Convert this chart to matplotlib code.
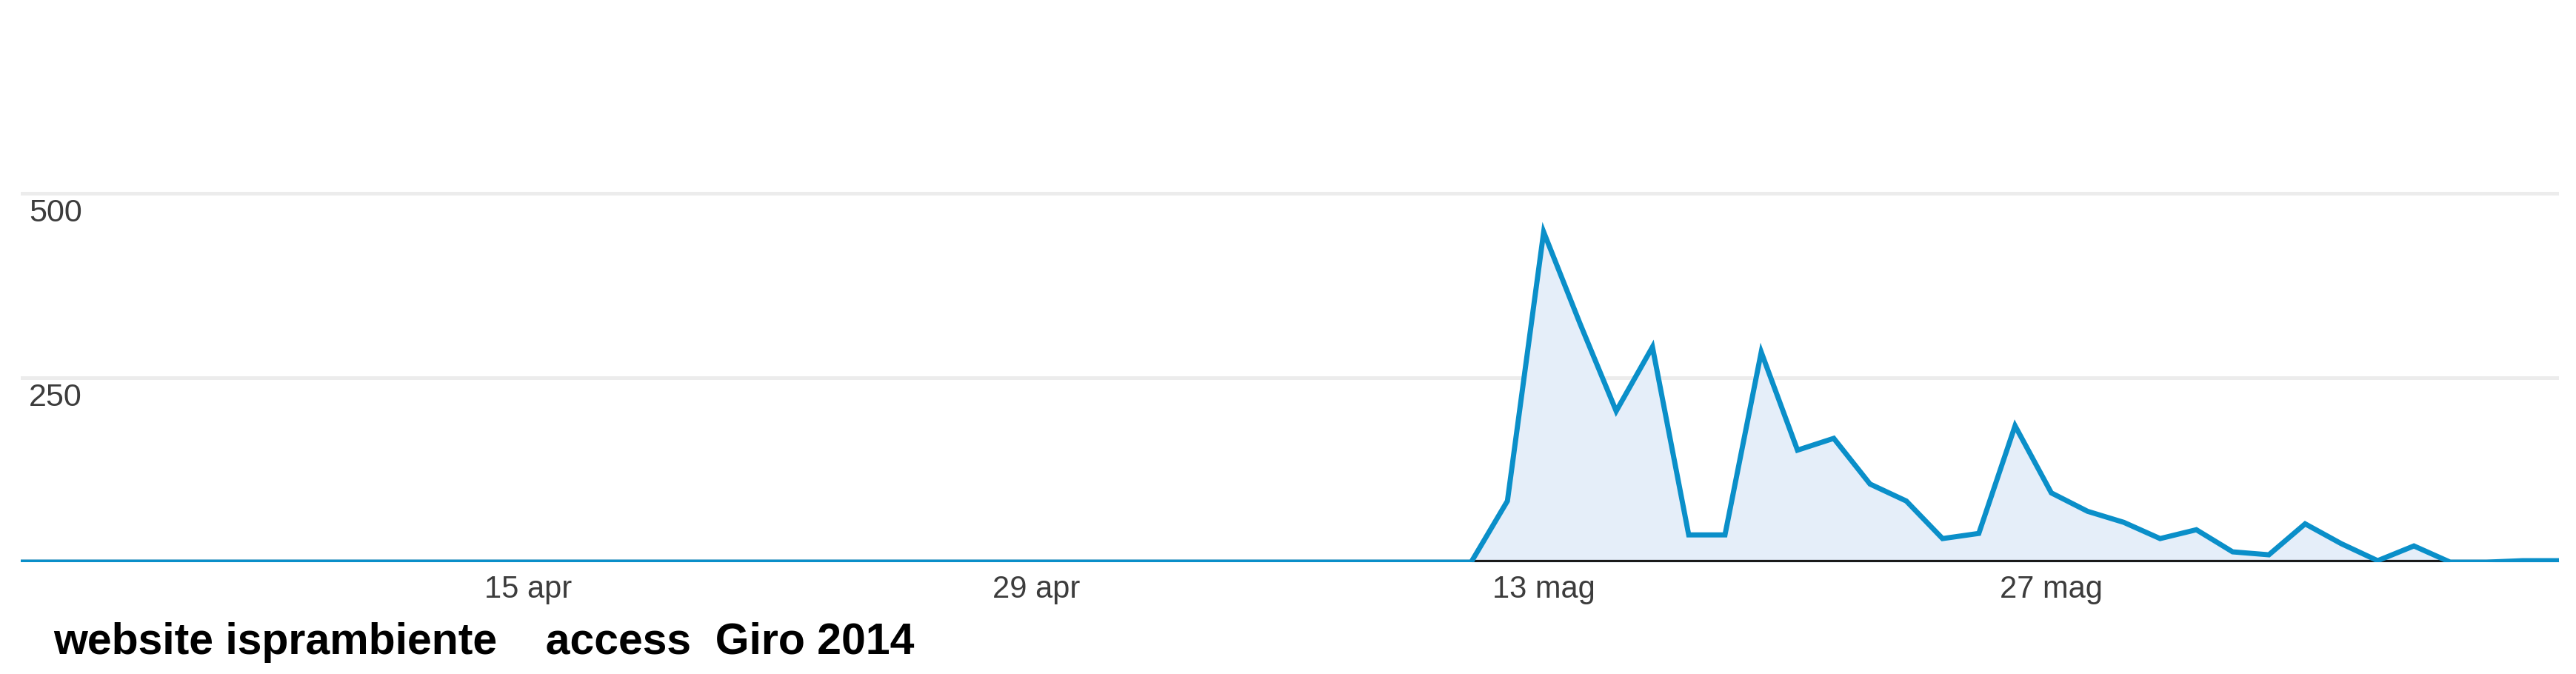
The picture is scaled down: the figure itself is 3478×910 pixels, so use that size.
import matplotlib.pyplot as plt
import pandas as pd

# daily visits, 1 Apr - 10 Jun 2014
days = pd.date_range('2014-04-01', '2014-06-10', freq='D')
visits = [
    0, 0, 0, 0, 0, 0, 0, 0, 0, 0,
    0, 0, 0, 0, 0, 0, 0, 0, 0, 0,
    0, 0, 0, 0, 0, 0, 0, 0, 0, 0,
    0, 0, 0, 0, 0, 0, 0, 0, 0, 0,
    0, 83, 448, 324, 205, 292, 37, 37, 285, 152,
    168, 106, 83, 32, 39, 185, 94, 69, 54, 32,
    44, 14, 10, 52, 25, 2, 22, 0, 0, 2,
    2,
]

y_ticks = [250, 500]
x_tick_dates = ['2014-04-15', '2014-04-29', '2014-05-13', '2014-05-27']
x_tick_labels = ['15 apr', '29 apr', '13 mag', '27 mag']
caption = 'website isprambiente    access  Giro 2014'

plt.rcParams['font.family'] = ['Liberation Sans', 'DejaVu Sans']

W, H = 3478, 910
fig = plt.figure(figsize=(W / 100, H / 100), dpi=100)
ax = fig.add_axes([28 / W, 151 / H, 3427 / W, 597 / H])
ax.set_xlim(days[0], days[-1])
ax.set_ylim(0, 600)

for v in y_ticks:
    ax.axhline(v, color='#ececec', lw=3.6, zorder=0)
    ax.annotate(str(v), xy=(0, v), xycoords=('axes fraction', 'data'),
                xytext=(8, -5), textcoords='offset points',
                ha='left', va='top', fontsize=31, color='#3c3c3c')

ax.fill_between(days, visits, 0, color='#e5eef9', lw=0, zorder=1)
ax.axhline(0, color='#1a1a1a', lw=4.5, zorder=2)
ax.plot(days, visits, color='#0a8fc9', lw=5, zorder=3,
        solid_joinstyle='miter')

ax.set_xticks(pd.to_datetime(x_tick_dates))
ax.set_xticklabels(x_tick_labels)
ax.tick_params(axis='x', length=0, pad=12, labelsize=30, labelcolor='#3c3c3c')
ax.tick_params(axis='y', left=False, labelleft=False)
for s in ax.spines.values():
    s.set_visible(False)

fig.text(72 / W, (H - 883) / H, caption, ha='left', va='baseline',
         fontsize=42.5, fontweight='bold', color='black')

fig.savefig('out.png', dpi=100, facecolor='white')
